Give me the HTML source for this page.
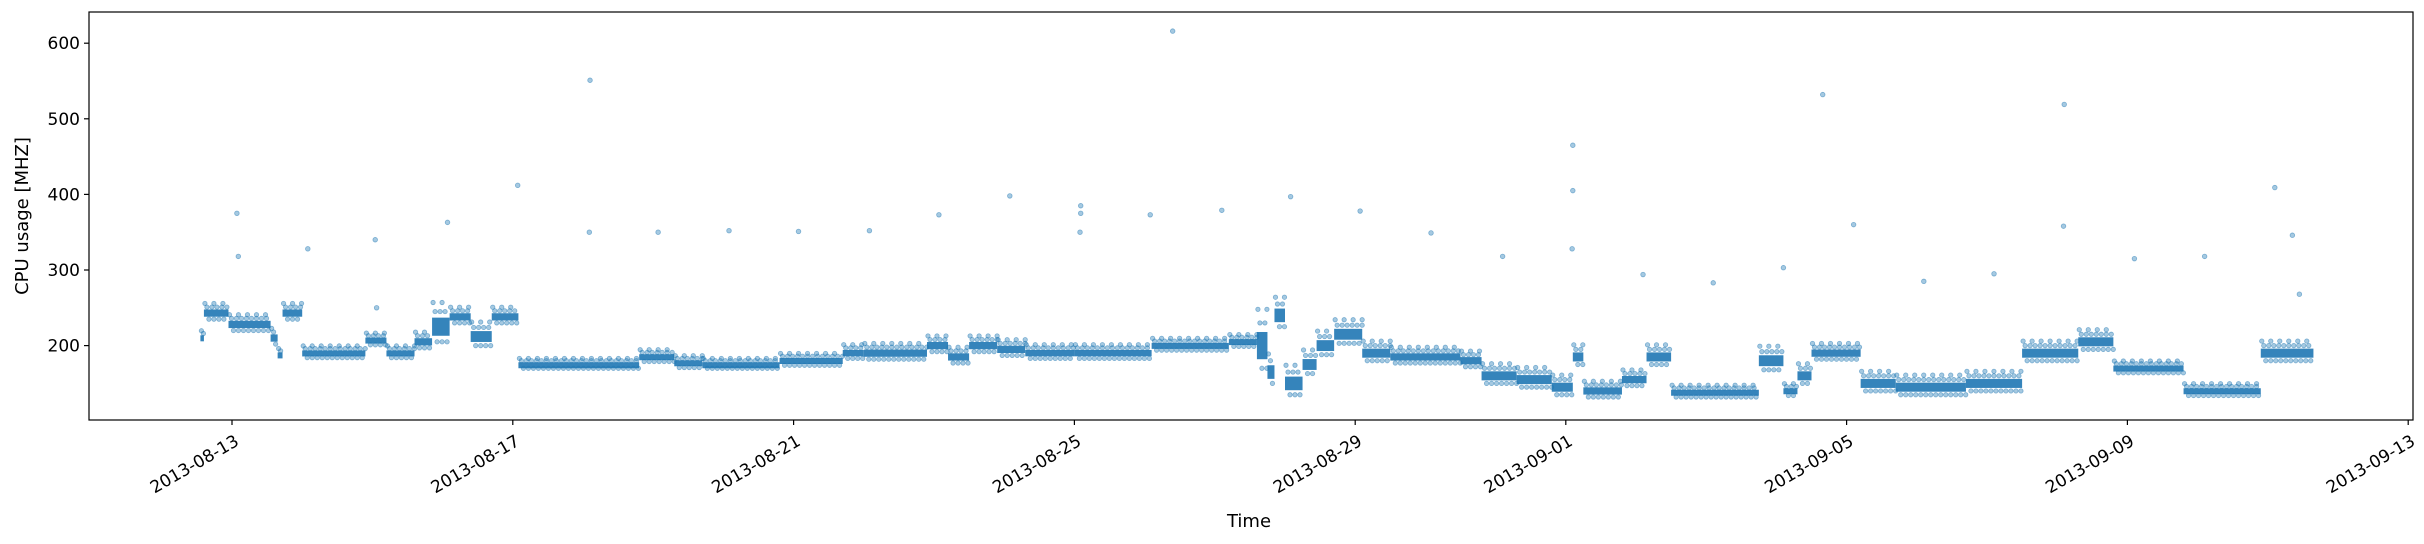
<!DOCTYPE html>
<html><head><meta charset="utf-8"><style>
html,body{margin:0;padding:0;background:#fff;}
svg{display:block;font-family:"DejaVu Sans","Liberation Sans",sans-serif;}
</style></head><body>
<svg id="chart" width="2424" height="544" viewBox="0 0 2424 544" xmlns="http://www.w3.org/2000/svg">
<rect x="0" y="0" width="2424" height="544" fill="#fff"/>
<g id="marks"></g>
<g id="axes"></g>
</svg>
<script>
// Day offsets from 2013-08-13 00:00 where each level segment starts
const segStart = [-0.45,-0.4,-0.05,0.55,0.65,0.72,1.0,1.9,2.2,2.6,2.85,3.1,3.4,3.7,4.08,5.8,6.3,6.7,7.8,8.7,9.0,9.9,10.2,10.5,10.9,11.3,12.0,13.1,14.2,14.6,14.75,14.85,15.0,15.25,15.45,15.7,16.1,16.5,17.5,17.8,18.3,18.8,19.1,19.25,19.8,20.15,20.5,21.75,22.1,22.3,22.5,23.2,23.7,24.7,25.5,26.3,26.8,27.8,28.9];
const segLevel = [210,243,228,210,188,243,190,207,190,205,225,238,212,238,175,185,177,175,180,190,190,200,185,200,195,190,190,200,205,200,165,240,150,175,200,215,190,185,180,160,155,145,185,140,155,185,138,180,140,160,190,150,145,150,190,205,170,140,190];
const segEnd = 29.65;
const segSpread = [6,8,8,8,5,8,6,6,6,8,20,8,12,8,5,6,6,5,6,7,8,8,8,8,8,7,7,6,6,30,15,15,15,12,12,12,10,8,8,10,10,10,10,8,8,10,6,12,6,10,8,10,10,10,10,10,6,6,10];
// Isolated spikes (day offset, MHz)
const outT = [0.07,0.09,1.08,2.04,2.06,3.07,4.07,5.1,5.09,6.07,7.08,8.07,9.08,10.07,11.08,12.09,12.09,12.08,13.08,13.4,14.1,15.08,16.07,17.08,18.1,19.1,19.1,19.09,20.1,21.1,22.1,22.66,23.1,24.1,25.1,26.1,26.09,27.1,28.1,29.1,29.35,29.45];
const outV = [375,318,328,340,250,363,412,551,350,350,352,351,352,373,398,385,375,350,373,616,379,397,378,349,318,465,405,328,294,283,303,532,360,285,295,519,358,315,318,409,346,268];
const yTicks = [200,300,400,500,600];
const xTickDays = [0,4,8,12,16,19,23,27,31];
const xTickLabels = ["2013-08-13","2013-08-17","2013-08-21","2013-08-25","2013-08-29","2013-09-01","2013-09-05","2013-09-09","2013-09-13"];

const L=89,R=2413,T=12,B=420;
const X=d=>232+70.2*d;
const Y=v=>345.6-(v-200)*0.756;
const NS="http://www.w3.org/2000/svg";
function mk(tag,attrs,parent){const e=document.createElementNS(NS,tag);for(const k in attrs)e.setAttribute(k,attrs[k]);parent.appendChild(e);return e;}
const marks=document.getElementById('marks');
const axes=document.getElementById('axes');
const C="#1f77b4";
for(let i=0;i<segLevel.length;i++){
  const t0=segStart[i], t1=(i+1<segStart.length)?segStart[i+1]:segEnd;
  const x0=X(t0), x1=X(t1), v=segLevel[i], s=segSpread[i];
  const band=mk('rect',{x:x0,y:Y(v+s*0.6),width:Math.max(1,x1-x0),height:Math.max(6,Y(v-s*0.6)-Y(v+s*0.6)),fill:C,'fill-opacity':0.9},marks);
  
  
  const rows=[v+s*1.6,v+s,v-s];
  rows.forEach((rv,k)=>{
    for(let x=x0+1+k*2;x<x1;x+=(k===0?9:5)){
      const c=mk('circle',{cx:x,cy:Y(rv),r:2.2,fill:C,'fill-opacity':0.4,stroke:C,'stroke-opacity':0.5,'stroke-width':0.8},marks);
      
      
    }
  });
}
for(let i=0;i<outT.length;i++){
  const c=mk('circle',{cx:X(outT[i]),cy:Y(outV[i]),r:2.3,fill:C,'fill-opacity':0.4,stroke:C,'stroke-opacity':0.5,'stroke-width':0.8},marks);
  
  
}
const frame=mk('rect',{x:L,y:T,width:R-L,height:B-T,fill:'none',stroke:'#000','stroke-width':1.2},axes);


for(const v of yTicks){
  const y=Y(v);
  const tk=mk('line',{x1:L-5,x2:L,y1:y,y2:y,stroke:'#000','stroke-width':1.2},axes);
  
  
  const t=mk('text',{x:L-9,y:y+6,'text-anchor':'end','font-size':17,fill:'#000'},axes);
  t.textContent=v;
  
  
}
for(let i=0;i<xTickDays.length;i++){
  const x=X(xTickDays[i]);
  const tk=mk('line',{x1:x,x2:x,y1:B,y2:B+5,stroke:'#000','stroke-width':1.2},axes);
  
  
  const t=mk('text',{x:x+2,y:B+14,'text-anchor':'end','font-size':17,fill:'#000',transform:`rotate(-30 ${x+2} ${B+14})`,'dominant-baseline':'hanging'},axes);
  t.textContent=xTickLabels[i];
  
  
}
const xl=mk('text',{x:1249,y:527,'text-anchor':'middle','font-size':18,fill:'#000'},axes);
xl.textContent='Time';


const yl=mk('text',{x:28,y:(T+B)/2,'text-anchor':'middle','font-size':18,fill:'#000',transform:`rotate(-90 28 ${(T+B)/2})`},axes);
yl.textContent='CPU usage [MHZ]';


</script>
</body></html>
